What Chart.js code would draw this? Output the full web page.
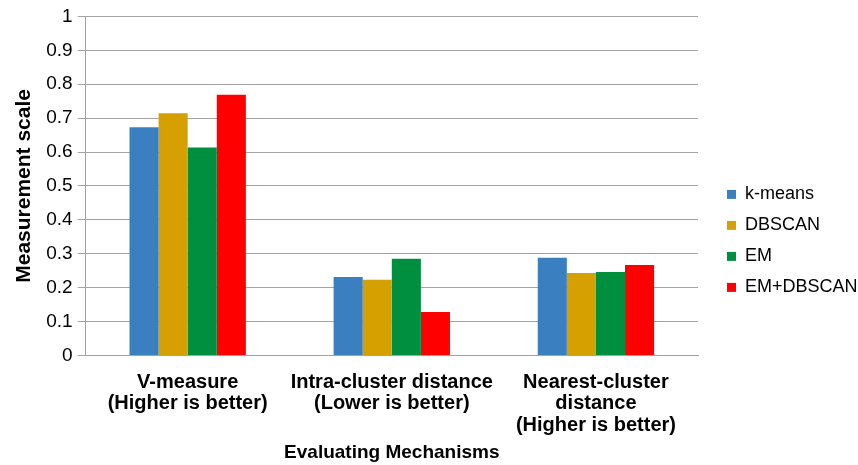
<!DOCTYPE html>
<html>
<head>
<meta charset="utf-8">
<script src="https://cdn.jsdelivr.net/npm/chart.js@4/dist/chart.umd.min.js"></script>
<style>
  html,body{margin:0;padding:0;background:#fff;}
  #wrap{width:858px;height:465px;position:relative;}
</style>
</head>
<body>
<div id="wrap"><canvas id="chart"></canvas></div>
<script>
/* ---------- data ---------- */
const categories = [
  ["V-measure", "(Higher is better)"],
  ["Intra-cluster distance", "(Lower is better)"],
  ["Nearest-cluster", "distance", "(Higher is better)"]
];
const kmeans   = [0.673, 0.231, 0.288];
const dbscan   = [0.714, 0.223, 0.243];
const em       = [0.613, 0.285, 0.246];
const emDbscan = [0.769, 0.128, 0.267];

const seriesNames  = ["k-means", "DBSCAN", "EM", "EM+DBSCAN"];
const seriesColors = ["#3a7fbf", "#d6a100", "#008f3e", "#ff0000"];

/* ---------- chart ---------- */
const FONT = "'Liberation Sans', Arial, sans-serif";
const GRID = "#a3a3a3";

const mkSet = (i, data) => ({
  label: seriesNames[i], data,
  backgroundColor: seriesColors[i],
  borderWidth: 0,
  categoryPercentage: 0.57, barPercentage: 1.0
});

new Chart(document.getElementById("chart"), {
  type: "bar",
  data: {
    labels: categories,
    datasets: [mkSet(0, kmeans), mkSet(1, dbscan), mkSet(2, em), mkSet(3, emDbscan)]
  },
  options: {
    responsive: true, maintainAspectRatio: false, animation: false,
    layout: {padding: {top: 6, right: 2, bottom: 1, left: 4}},
    plugins: {
      tooltip: {enabled: false},
      legend: {
        position: "right",
        // empty title only nudges the legend items down a little
        title: {display: true, text: "", font: {size: 4}, padding: {top: 7, bottom: 0}},
        labels: {
          boxWidth: 9, boxHeight: 9, padding: 13,
          color: "#000", font: {family: FONT, size: 18}
        }
      }
    },
    scales: {
      x: {
        grid: {display: false},
        border: {color: GRID},
        ticks: {color: "#000", autoSkip: false, maxRotation: 0, padding: 8,
                font: {family: FONT, size: 20, weight: "bold", lineHeight: 1.08}},
        title: {display: true, text: "Evaluating Mechanisms", color: "#000",
                font: {family: FONT, size: 19, weight: "bold"}, padding: {top: -3, bottom: 0}}
      },
      y: {
        min: 0, max: 1,
        ticks: {stepSize: 0.1, color: "#000", font: {family: FONT, size: 19}, padding: 5,
                callback: v => +v.toFixed(1)},
        grid: {color: GRID, tickLength: 8},
        border: {color: GRID},
        title: {display: true, text: "Measurement scale", color: "#000",
                font: {family: FONT, size: 21, weight: "bold"}, padding: {top: 8, bottom: 4}}
      },
      // blank spacer between the plot and the legend
      gap: {
        position: "right", display: true,
        grid: {display: false}, border: {display: false}, ticks: {display: false},
        afterFit: s => { s.width = 16; }
      }
    }
  }
});
</script>
</body>
</html>
